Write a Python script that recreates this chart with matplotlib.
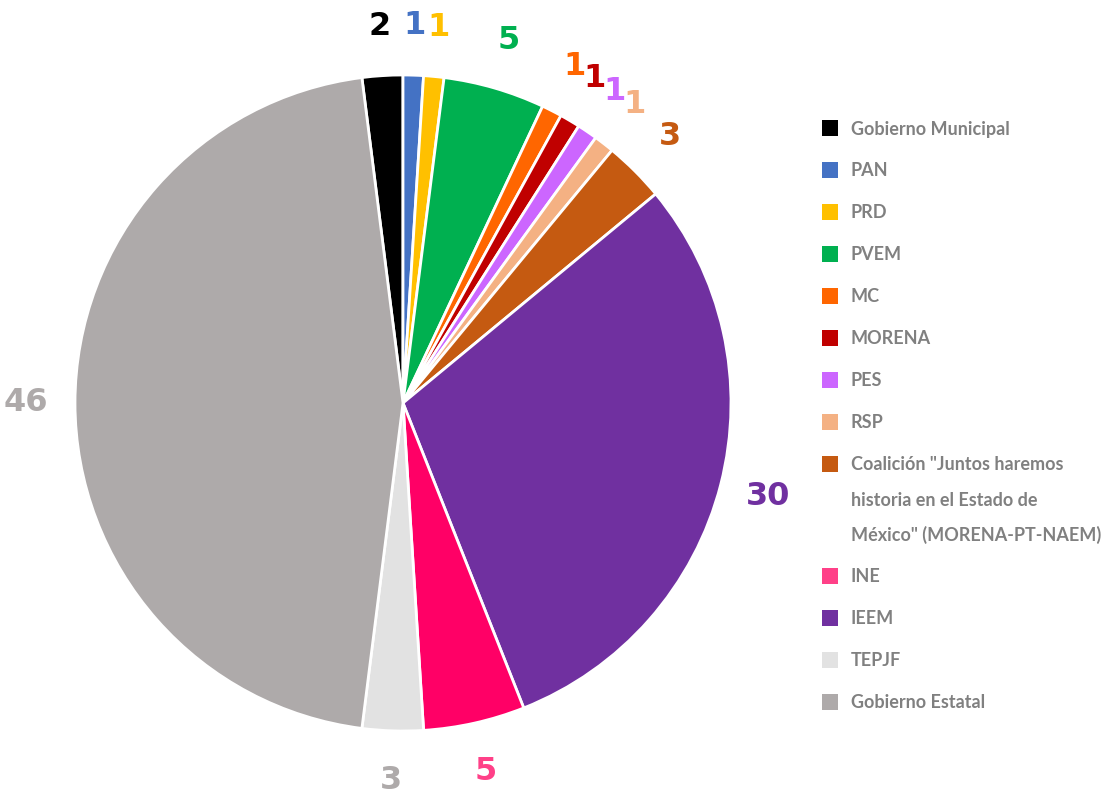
import matplotlib
matplotlib.use('Agg')
import matplotlib.pyplot as plt
from matplotlib.patches import Rectangle

# slices in clockwise order, starting with Gobierno Municipal
names = ['Gobierno Municipal', 'PAN', 'PRD', 'PVEM', 'MC', 'MORENA', 'PES',
         'RSP',
         'Coalición "Juntos haremos\nhistoria en el Estado de\nMéxico" (MORENA-PT-NAEM)',
         'IEEM', 'INE', 'TEPJF', 'Gobierno Estatal']
values = [2, 1, 1, 5, 1, 1, 1, 1, 3, 30, 5, 3, 46]
colors = ['#000000', '#4472C4', '#FFC000', '#00B050', '#FF6600', '#C00000',
          '#CC66FF', '#F4B183', '#C55A11', '#7030A0', '#FF0066', '#E2E2E2',
          '#AEAAAA']
label_colors = ['#000000', '#4472C4', '#FFC000', '#00B050', '#FF6600',
                '#C00000', '#CC66FF', '#F4B183', '#C55A11', '#7030A0',
                '#FF4088', '#AEAAAA', '#AEAAAA']
legend_colors = colors[:10] + ['#FF4088'] + colors[11:]
legend_order = [0, 1, 2, 3, 4, 5, 6, 7, 8, 10, 9, 11, 12]

W, H = 1117, 794
fig = plt.figure(figsize=(W / 100, H / 100), dpi=100)
cx, cy, r = 403, 391, 328
ax = fig.add_axes([(cx - r) / W, (cy - r) / H, 2 * r / W, 2 * r / H])

total = sum(values)
start = 90 + 360 * values[0] / total
wedges, _, autotexts = ax.pie(
    values, colors=colors, startangle=start, counterclock=False,
    wedgeprops={'edgecolor': 'white', 'linewidth': 2},
    autopct=lambda p: '{:d}'.format(int(round(p * total / 100))),
    pctdistance=1.15,
    textprops={'fontsize': 23, 'fontweight': 'bold',
                'family': 'DejaVu Sans'})
for t, c in zip(autotexts, label_colors):
    t.set_color(c)
ax.set_xlim(-1, 1)
ax.set_ylim(-1, 1)
ax.set_aspect('equal')

# legend drawn by hand so the square sits on the first line of wrapped text
fs = 13
fs_px = fs * 100 / 72
y = 128
for k, i in enumerate(legend_order):
    lines = names[i].split('\n')
    fig.patches.append(Rectangle(((822) / W, 1 - (y + 8) / H), 16 / W, 16 / H,
                                 transform=fig.transFigure,
                                 facecolor=legend_colors[i], edgecolor='none'))
    for j, line in enumerate(lines):
        fig.text(851 / W, 1 - (y + 0.36 * fs_px) / H, line, fontsize=fs,
                 family=['Lato', 'DejaVu Sans'], fontweight='bold',
                 color='#808080', va='baseline', ha='left')
        if j < len(lines) - 1:
            y += 35
    y += 42

fig.savefig('out.png', dpi=100)
